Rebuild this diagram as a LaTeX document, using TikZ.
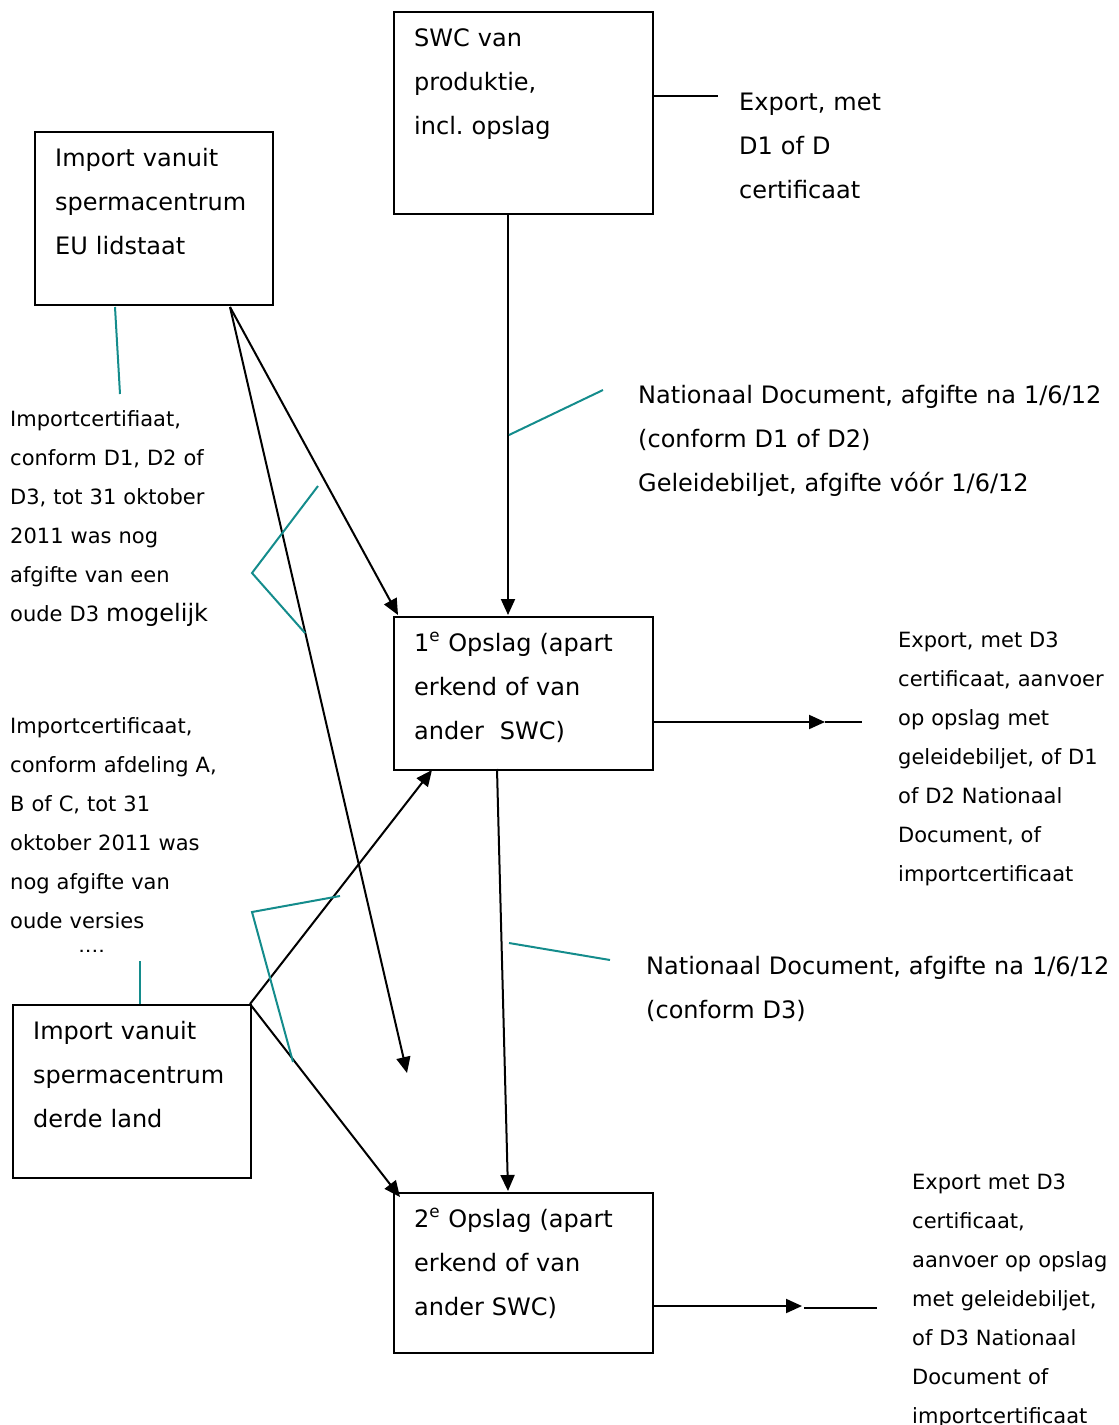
\documentclass[tikz,border=0pt]{standalone}
\usepackage{fontspec}
\setmainfont{DejaVu Sans}
\usetikzlibrary{arrows.meta}
\definecolor{tealline}{RGB}{20,140,140}
\begin{document}
\begin{tikzpicture}[x=1pt,y=-1pt,
  box/.style={draw=black, line width=2pt, rectangle, inner sep=0pt, anchor=north west},
  bigtxt/.style={anchor=base west, inner sep=0pt, text width=480pt, align=left, font=\fontsize{24}{44}\selectfont},
  smalltxt/.style={anchor=base west, inner sep=0pt, text width=300pt, align=left, font=\fontsize{21}{39}\selectfont},
  flow/.style={line width=2pt, -{Triangle[length=16pt,width=14pt]}},
  plain/.style={line width=2pt},
  note/.style={draw=tealline, line width=2pt}]
\useasboundingbox (0,0) rectangle (1119,1425);

% boxes
\node[box, minimum width=259pt, minimum height=202pt] (swc) at (393,11) {};
\node[box, minimum width=238pt, minimum height=173pt] (eu) at (34,131) {};
\node[box, minimum width=259pt, minimum height=153pt] (op1) at (393,616) {};
\node[box, minimum width=238pt, minimum height=173pt] (derde) at (12,1004) {};
\node[box, minimum width=259pt, minimum height=160pt] (op2) at (393,1192) {};

% box texts
\node[bigtxt] (swct) at (414,46.5) {SWC van\\produktie,\\incl.\ opslag};
\node[bigtxt] (eut) at (55,166) {Import vanuit\\spermacentrum\\EU lidstaat};
\node[bigtxt] (op1t) at (414,651) {1\textsuperscript{e} Opslag (apart\\erkend of van\\ander~~SWC)};
\node[bigtxt] (derdet) at (33,1039) {Import vanuit\\spermacentrum\\derde land};
\node[bigtxt] (op2t) at (414,1227) {2\textsuperscript{e} Opslag (apart\\erkend of van\\ander SWC)};

% other texts
\node[bigtxt] (exp1) at (739,110) {Export, met\\D1 of D\\certificaat};
\node[bigtxt] (nat1) at (638,403) {Nationaal Document, afgifte na 1/6/12\\(conform D1 of D2)\\Geleidebiljet, afgifte vóór 1/6/12};
\node[bigtxt] (nat2) at (646,974) {Nationaal Document, afgifte na 1/6/12\\(conform D3)};
\node[smalltxt] (imp1) at (10,426) {Importcertifiaat,\\conform D1, D2 of\\D3, tot 31 oktober\\2011 was nog\\afgifte van een\\oude D3 {\fontsize{24}{39}\selectfont mogelijk}};
\node[smalltxt] (imp2) at (10,733) {Importcertificaat,\\conform afdeling A,\\B of C, tot 31\\oktober 2011 was\\nog afgifte van\\oude versies};
\begin{scope}
\clip (0,940) rectangle (300,951);
\node[bigtxt] (imp2c) at (10,968) {mogelijk};
\end{scope}
\node[smalltxt] (exp2) at (898,647) {Export, met D3\\certificaat, aanvoer\\op opslag met\\geleidebiljet, of D1\\of D2 Nationaal\\Document, of\\importcertificaat};
\node[smalltxt] (exp3) at (912,1189) {Export met D3\\certificaat,\\aanvoer op opslag\\met geleidebiljet,\\of D3 Nationaal\\Document of\\importcertificaat};

% connector end points
\coordinate (swcR) at (652,96);
\coordinate (swcRend) at (718,96);
\coordinate (swcB) at (508,213);
\coordinate (op1T) at (508,615);
\coordinate (euO) at (230,307);
\coordinate (op1TL) at (398,615);
\coordinate (free1) at (407,1073);
\coordinate (derdeO) at (250,1004);
\coordinate (op1BL) at (432,770);
\coordinate (op2TL) at (400,1197);
\coordinate (op1B) at (497,769);
\coordinate (op2T) at (508,1191);
\coordinate (op1R) at (652,722);
\coordinate (a1tip) at (825,722);
\coordinate (a1end) at (862,722);
\coordinate (op2R) at (652,1306);
\coordinate (a2tip) at (802,1306);
\coordinate (b2s) at (804,1308);
\coordinate (b2e) at (877,1308);

% black connectors
\draw[plain] (swcR) -- (swcRend);
\draw[flow] (swcB) -- (op1T);
\draw[flow] (euO) -- (op1TL);
\draw[flow] (euO) -- (free1);
\draw[flow] (derdeO) -- (op1BL);
\draw[flow] (derdeO) -- (op2TL);
\draw[flow] (op1B) -- (op2T);
\draw[flow] (op1R) -- (a1tip);
\draw[plain] (a1tip) -- (a1end);
\draw[flow] (op2R) -- (a2tip);
\draw[plain] (b2s) -- (b2e);

% teal annotation lines
\coordinate (t1a) at (115,307); \coordinate (t1b) at (120,394);
\coordinate (t2a) at (509,435); \coordinate (t2b) at (603,390);
\coordinate (t3a) at (318,486); \coordinate (t3b) at (252,573); \coordinate (t3c) at (305,633);
\coordinate (t4a) at (340,896); \coordinate (t4b) at (252,912); \coordinate (t4c) at (293,1062);
\coordinate (t5a) at (509,943); \coordinate (t5b) at (610,960);
\coordinate (t6a) at (140,961); \coordinate (t6b) at (140,1004);
\draw[note] (t1a) -- (t1b);
\draw[note] (t2a) -- (t2b);
\draw[note] (t3a) -- (t3b) -- (t3c);
\draw[note] (t4a) -- (t4b) -- (t4c);
\draw[note] (t5a) -- (t5b);
\draw[note] (t6a) -- (t6b);
\end{tikzpicture}
\end{document}
